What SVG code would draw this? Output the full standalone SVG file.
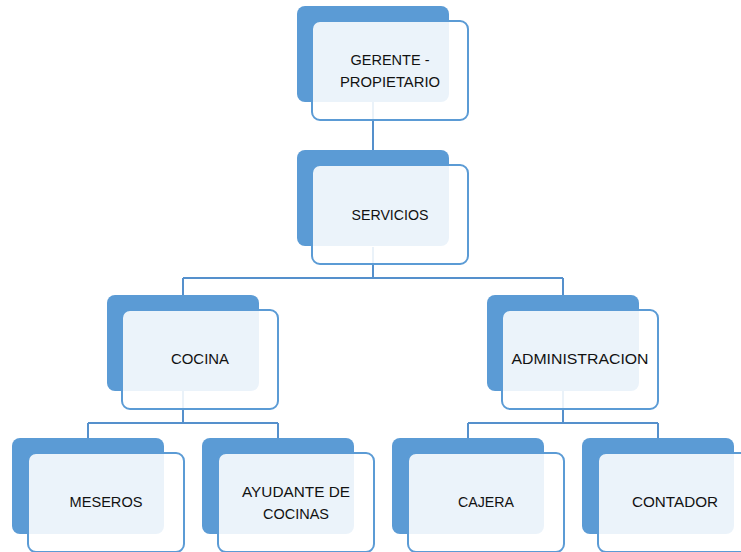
<svg xmlns="http://www.w3.org/2000/svg" width="741" height="552" viewBox="0 0 741 552">
  <style>
    .back { fill: #5B9BD5; }
    .front { fill: #FFFFFF; fill-opacity: 0.88; stroke: #5B9BD5; stroke-width: 2; }
    .label { font-family: "Liberation Sans", Arial, sans-serif; font-size: 15px; fill: #111111; text-anchor: middle; }
    .link { fill: none; stroke: #5590CC; stroke-width: 2; }
  </style>
  <rect width="741" height="552" fill="#FFFFFF"/>

  <!-- connectors sit underneath the boxes -->
  <g id="connectors">
    <path class="link" d="M373,102 V150"/>
    <path class="link" d="M373,247 V278 M183,278 H563 M183,278 V295 M563,278 V295"/>
    <path class="link" d="M183,390 V423 M88,423 H278 M88,423 V438 M278,423 V438"/>
    <path class="link" d="M563,390 V423 M468,423 H658 M468,423 V438 M658,423 V438"/>
  </g>

  <g id="gerente">
    <rect class="back" x="297" y="6" width="152" height="96" rx="8"/>
    <rect class="front" x="312" y="21" width="156" height="99" rx="8"/>
    <text class="label" x="390" y="65" textLength="79" lengthAdjust="spacingAndGlyphs">GERENTE -</text>
    <text class="label" x="390" y="87" textLength="100" lengthAdjust="spacingAndGlyphs">PROPIETARIO</text>
  </g>

  <g id="servicios">
    <rect class="back" x="297" y="150" width="152" height="96" rx="8"/>
    <rect class="front" x="312" y="165" width="156" height="99" rx="8"/>
    <text class="label" x="390" y="220" textLength="77" lengthAdjust="spacingAndGlyphs">SERVICIOS</text>
  </g>

  <g id="cocina">
    <rect class="back" x="107" y="295" width="152" height="96" rx="8"/>
    <rect class="front" x="122" y="310" width="156" height="99" rx="8"/>
    <text class="label" x="200" y="364" textLength="58" lengthAdjust="spacingAndGlyphs">COCINA</text>
  </g>

  <g id="administracion">
    <rect class="back" x="487" y="295" width="152" height="96" rx="8"/>
    <rect class="front" x="502" y="310" width="156" height="99" rx="8"/>
    <text class="label" x="580" y="364" textLength="137" lengthAdjust="spacingAndGlyphs">ADMINISTRACION</text>
  </g>

  <g id="meseros">
    <rect class="back" x="12" y="438" width="152" height="96" rx="8"/>
    <rect class="front" x="28" y="453" width="156" height="99" rx="8"/>
    <text class="label" x="106" y="507" textLength="73" lengthAdjust="spacingAndGlyphs">MESEROS</text>
  </g>

  <g id="ayudante">
    <rect class="back" x="202" y="438" width="152" height="96" rx="8"/>
    <rect class="front" x="218" y="453" width="156" height="99" rx="8"/>
    <text class="label" x="296" y="497" textLength="108" lengthAdjust="spacingAndGlyphs">AYUDANTE DE</text>
    <text class="label" x="296" y="519" textLength="66" lengthAdjust="spacingAndGlyphs">COCINAS</text>
  </g>

  <g id="cajera">
    <rect class="back" x="392" y="438" width="152" height="96" rx="8"/>
    <rect class="front" x="408" y="453" width="156" height="99" rx="8"/>
    <text class="label" x="486" y="507" textLength="56" lengthAdjust="spacingAndGlyphs">CAJERA</text>
  </g>

  <g id="contador">
    <rect class="back" x="582" y="438" width="152" height="96" rx="8"/>
    <rect class="front" x="598" y="453" width="156" height="99" rx="8"/>
    <text class="label" x="675" y="507" textLength="86" lengthAdjust="spacingAndGlyphs">CONTADOR</text>
  </g>
</svg>
